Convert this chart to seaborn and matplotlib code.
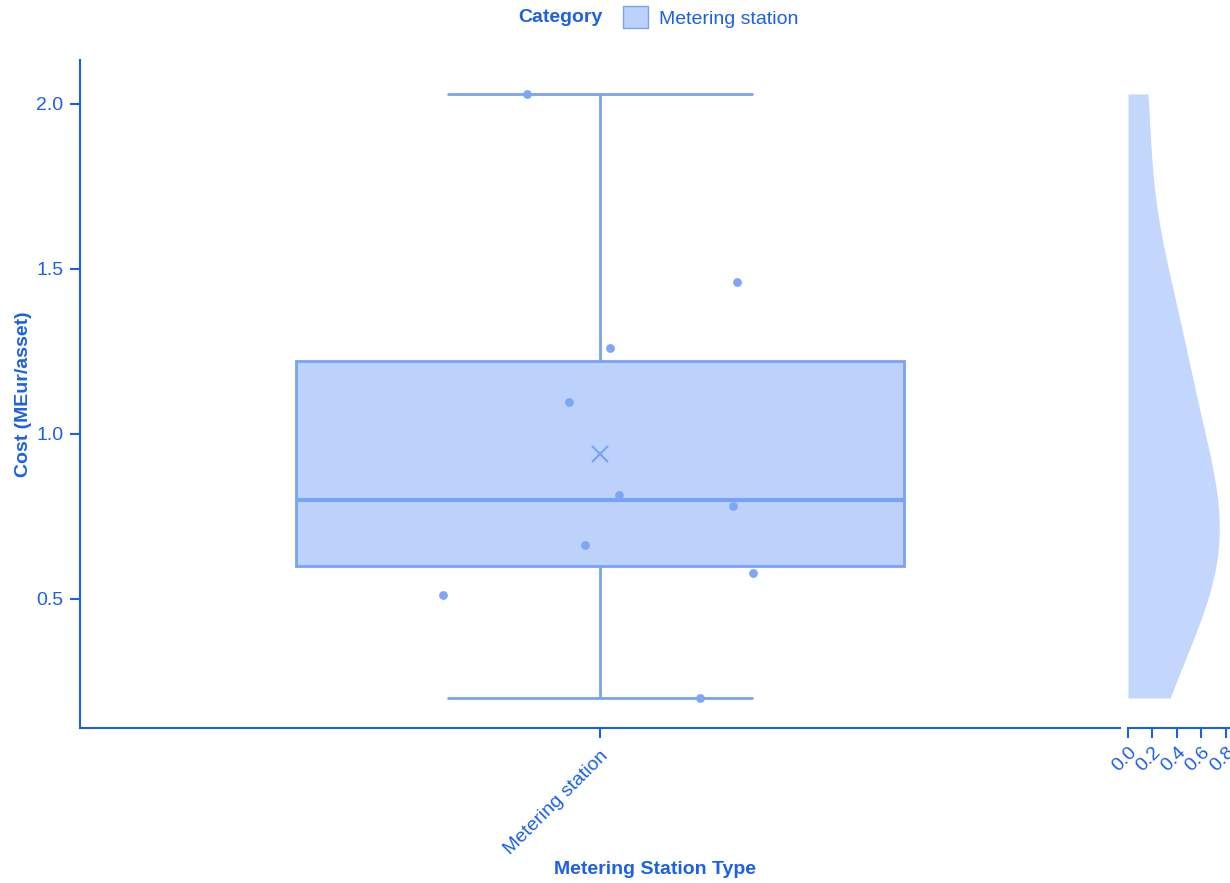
import numpy as np
import pandas as pd
import matplotlib
matplotlib.use("Agg")
import matplotlib.pyplot as plt
from matplotlib.patches import Rectangle
import seaborn as sns

# Cost per asset for metering stations (MEur/asset)
category = ["Metering station"]
cost = [2.03, 1.461, 1.261, 1.097, 0.815, 0.782, 0.664, 0.579, 0.512, 0.200]
# horizontal spread of the individual points around the category centre
point_offset = [-0.070, 0.132, 0.010, -0.030, 0.018, 0.128, -0.014, 0.147, -0.151, 0.096]
y_ticks = [0.5, 1.0, 1.5, 2.0]
density_ticks = [0.0, 0.2, 0.4, 0.6, 0.8]

TEXT = "#1c5fe8"
EDGE = "#78a2f6"
FILL = "#bdd2fb"
POINT = "#7ea6f5"
DENS = "#c3d6fc"

sns.set_theme(style="white")
plt.rcParams["font.family"] = ["Liberation Sans", "DejaVu Sans"]

df = pd.DataFrame({"type": category * len(cost), "cost": cost})

fig = plt.figure(figsize=(12.3, 8.83), dpi=100)
ax = fig.add_axes([80 / 1230, 1 - 728 / 883, 1040 / 1230, 668 / 883])
axd = fig.add_axes([1128 / 1230, 1 - 728 / 883, 104 / 1230, 668 / 883])

sns.boxplot(
    data=df, x="type", y="cost", ax=ax, width=0.585, whis=np.inf,
    color=FILL, linecolor=EDGE, linewidth=2, fliersize=0,
    showmeans=True,
    meanprops=dict(marker="x", markeredgecolor=EDGE, markersize=12, markeredgewidth=1.5),
    boxprops=dict(facecolor=FILL, edgecolor=EDGE, linewidth=2),
    medianprops=dict(color=EDGE, linewidth=3),
)
sns.scatterplot(x=point_offset, y=cost, ax=ax, color=POINT, s=40, linewidth=0, zorder=5)

ax.set_xlim(-0.5, 0.5)
ax.set_ylim(0.109, 2.133)
ax.set_yticks(y_ticks)
ax.set_yticklabels([f"{v:.1f}" for v in y_ticks])
ax.set_xticks([0])
ax.set_xticklabels(category, rotation=45, ha="right", rotation_mode="anchor")
ax.set_xlabel("")
ax.set_ylabel("Cost (MEur/asset)", color=TEXT, fontsize=14, fontweight="bold")
ax.yaxis.set_label_coords(-0.046, 0.5)
for side in ["top", "right"]:
    ax.spines[side].set_visible(False)
for side in ["left", "bottom"]:
    ax.spines[side].set_color(TEXT)
    ax.spines[side].set_linewidth(1.5)
ax.tick_params(axis="both", colors=TEXT, labelcolor=TEXT, labelsize=14,
               length=7, width=1.5, direction="out", bottom=True, left=True)
ax.tick_params(axis="y", pad=5)
ax.tick_params(axis="x", pad=7)

# half-violin density along the cost axis
sns.kdeplot(y=cost, ax=axd, fill=True, cut=0, bw_method=0.54,
            color=DENS, alpha=1, linewidth=0)
axd.set_ylim(0.109, 2.133)
axd.set_xlim(0, 0.85)
axd.set_xticks(density_ticks)
axd.set_xticklabels([f"{v:.1f}" for v in density_ticks], rotation=45,
                    ha="right", rotation_mode="anchor")
axd.set_yticks([])
axd.set_xlabel("")
axd.set_ylabel("")
for side in ["top", "right", "left"]:
    axd.spines[side].set_visible(False)
axd.spines["bottom"].set_color(TEXT)
axd.spines["bottom"].set_linewidth(1.5)
axd.tick_params(axis="x", colors=TEXT, labelcolor=TEXT, labelsize=14,
                length=7, width=1.5, direction="out", bottom=True, pad=4)
axd.patch.set_alpha(0)

fig.text(655 / 1230, 1 - 870 / 883, "Metering Station Type", color=TEXT,
         fontsize=14, fontweight="bold", ha="center", va="center")

# legend across the top
fig.text(603 / 1230, 1 - 17 / 883, "Category", color=TEXT, fontsize=14,
         fontweight="bold", ha="right", va="center")
handle = Rectangle((0, 0), 1, 1, facecolor=FILL, edgecolor=EDGE, linewidth=1)
fig.legend([handle], ["Metering station"], loc="center left",
           bbox_to_anchor=(605 / 1230, 1 - 17 / 883), frameon=False,
           handlelength=1.3, handleheight=1.3, handletextpad=0.6,
           labelcolor=TEXT, fontsize=14)

fig.savefig("out.png", dpi=100, facecolor="white")
